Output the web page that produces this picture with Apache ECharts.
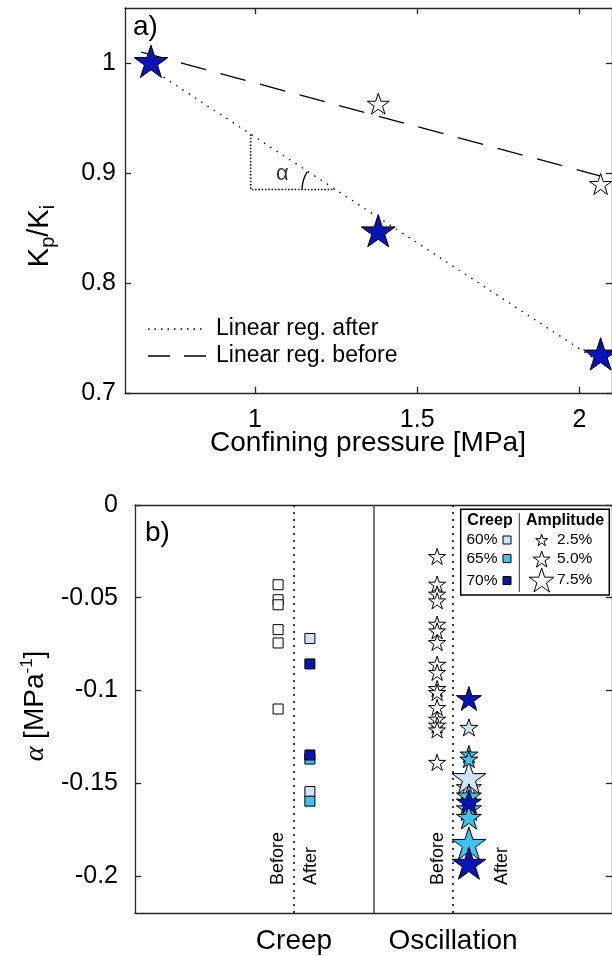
<!DOCTYPE html>
<html><head><meta charset="utf-8">
<script src="https://cdn.jsdelivr.net/npm/echarts@6/dist/echarts.min.js"></script>
<style>html,body{margin:0;padding:0;background:#fff}#c{width:612px;height:956px}</style>
</head><body><div id="c"></div>
<script>
// ---------- Panel a data ----------
const pressure = [0.68, 1.38, 2.065];
const kBefore = [1.0, 0.962, 0.889];
const kAfter = [1.0, 0.846, 0.734];
const regAfterP = [0.68, 2.1];
const regAfterK = [0.9945, 0.7209];
const regBeforeP = [0.65, 2.1];
const regBeforeK = [1.0098, 0.8944];
const triangleP = [0.987, 0.987, 1.247];
const triangleK = [0.935, 0.885, 0.885];
const alphaPos = [1.085, 0.899];
const aXTicks = [1, 1.5, 2];
const aYTicks = [0.7, 0.8, 0.9, 1];
const aLegendLabels = ['Linear reg. after', 'Linear reg. before'];

// ---------- Panel b data ----------
const categories = ['Creep', 'Oscillation'];
const bYTicks = [-0.2, -0.15, -0.1, -0.05, 0];
const creepBefore = [-0.043, -0.0511, -0.0538, -0.0672, -0.0744, -0.110];
const creepAfter60 = [-0.072, -0.1545];
const creepAfter65 = [-0.137, -0.1597];
const creepAfter70 = [-0.0857, -0.1348];
const oscBefore = [-0.0282, -0.0431, -0.0485, -0.0521, -0.0647, -0.0683, -0.0746, -0.0863,
                   -0.0907, -0.0994, -0.1015, -0.1096, -0.1159, -0.1191, -0.1217, -0.1392];
const oscAfter60 = [-0.1204, -0.153, -0.1478];
const oscAfter60Amp = [2.5, 5.0, 7.5];
const oscAfter65 = [-0.1348, -0.1375, -0.1575, -0.1644, -0.169, -0.1833];
const oscAfter65Amp = [2.5, 2.5, 5.0, 5.0, 5.0, 7.5];
const oscAfter70 = [-0.105, -0.1608, -0.194];
const oscAfter70Amp = [5.0, 5.0, 7.5];
const legendCreep = ['60%', '65%', '70%'];
const legendAmp = ['2.5%', '5.0%', '7.5%'];
const sideLabels = ['Before', 'After'];

// ---------- styles ----------
const FONT = 'Liberation Sans, Arial, Helvetica, sans-serif';
const AX = '#262626';
const C60 = '#cfe4f8', C65 = '#3fc3f0', C70 = '#0a14b4';
const TICKFONT = 25;

function starPath() {
  let d = '';
  for (let i = 0; i < 10; i++) {
    const r = i % 2 === 0 ? 1 : 0.382;
    const a = -Math.PI / 2 + i * Math.PI / 5;
    d += (i === 0 ? 'M' : 'L') + (r * Math.cos(a)).toFixed(4) + ' ' + (r * Math.sin(a)).toFixed(4) + ' ';
  }
  return 'path://' + d + 'Z';
}
function starPoints(cx, cy, w) {
  const R = w / 1.902, pts = [];
  for (let i = 0; i < 10; i++) {
    const r = i % 2 === 0 ? R : R * 0.382;
    const a = -Math.PI / 2 + i * Math.PI / 5;
    pts.push([cx + r * Math.cos(a), cy + r * Math.sin(a)]);
  }
  return pts;
}
const STAR = starPath();
const ampSize = a => a < 3 ? 18 : (a < 6 ? 25 : 34);

const axLine = {show: true, onZero: false, lineStyle: {color: AX, width: 1.3}};
function tick(vals) { return {show: true, inside: true, length: 6, customValues: vals, lineStyle: {color: AX, width: 1.3}}; }
const fmt = v => String(+(+v).toFixed(3));

const zip = (xs, ys) => xs.map((x, i) => [x, ys[i]]);
const atX = (x, ys) => ys.map(y => [x, y]);

function starSeries(x, ys, amps, color, size, z) {
  return {
    type: 'scatter', xAxisIndex: 2, yAxisIndex: 2, z: z,
    symbol: STAR, symbolKeepAspect: true, symbolOffset: [0, '-5%'],
    data: ys.map((y, i) => ({value: [x, y], symbolSize: amps ? ampSize(amps[i]) : size})),
    itemStyle: {color: color, borderColor: '#000', borderWidth: 1, opacity: 1}
  };
}
function squareSeries(x, ys, color, z) {
  return {
    type: 'scatter', xAxisIndex: 2, yAxisIndex: 2, z: z, symbol: 'rect', symbolSize: 10,
    data: atX(x, ys), itemStyle: {color: color, borderColor: '#000', borderWidth: 1, opacity: 1}
  };
}

const option = {
  animation: false,
  backgroundColor: '#fff',
  grid: [
    {left: 125, top: 8, width: 489, height: 385},
    {left: 135, top: 505, width: 478, height: 408}
  ],
  xAxis: [
    {gridIndex: 0, type: 'value', min: 0.6, max: 2.1, position: 'bottom', axisLine: axLine, axisTick: tick(aXTicks),
     axisLabel: {customValues: aXTicks, formatter: fmt, fontSize: TICKFONT, fontFamily: FONT, color: '#000', margin: 15}, splitLine: {show: false}},
    {gridIndex: 0, type: 'value', min: 0.6, max: 2.1, position: 'top', axisLine: axLine, axisTick: tick(aXTicks),
     axisLabel: {show: false}, splitLine: {show: false}},
    {gridIndex: 1, type: 'value', min: 0, max: 3, position: 'bottom', axisLine: axLine, axisTick: {show: false},
     axisLabel: {customValues: [1, 2], formatter: v => categories[Math.round(v) - 1], fontSize: 28, fontFamily: FONT, color: '#000', margin: 14},
     splitLine: {show: false}},
    {gridIndex: 1, type: 'value', min: 0, max: 3, position: 'top', axisLine: axLine, axisTick: {show: false},
     axisLabel: {show: false}, splitLine: {show: false}}
  ],
  yAxis: [
    {gridIndex: 0, type: 'value', min: 0.7, max: 1.05, position: 'left', axisLine: axLine, axisTick: tick(aYTicks),
     axisLabel: {customValues: aYTicks, formatter: fmt, fontSize: TICKFONT, fontFamily: FONT, color: '#000', margin: 9}, splitLine: {show: false}},
    {gridIndex: 0, type: 'value', min: 0.7, max: 1.05, position: 'right', axisLine: axLine, axisTick: tick(aYTicks),
     axisLabel: {show: false}, splitLine: {show: false}},
    {gridIndex: 1, type: 'value', min: -0.22, max: 0, position: 'left', axisLine: axLine, axisTick: tick(bYTicks),
     axisLabel: {customValues: bYTicks, formatter: fmt, fontSize: TICKFONT, fontFamily: FONT, color: '#000', margin: 17}, splitLine: {show: false}},
    {gridIndex: 1, type: 'value', min: -0.22, max: 0, position: 'right', axisLine: axLine, axisTick: tick(bYTicks),
     axisLabel: {show: false}, splitLine: {show: false}}
  ],
  series: [
    // ----- panel a -----
    {type: 'line', xAxisIndex: 0, yAxisIndex: 0, z: 2, showSymbol: false, symbol: 'none',
     data: zip(regAfterP, regAfterK), lineStyle: {color: '#000', width: 1.3, type: [1.5, 6]}},
    {type: 'line', xAxisIndex: 0, yAxisIndex: 0, z: 2, showSymbol: false, symbol: 'none',
     data: zip(regBeforeP, regBeforeK), lineStyle: {color: '#000', width: 1.3, type: [26, 15]}},
    {type: 'line', xAxisIndex: 0, yAxisIndex: 0, z: 2, showSymbol: false, symbol: 'none',
     data: zip(triangleP, triangleK), lineStyle: {color: '#000', width: 1.6, type: [1.5, 1.8]}},
    {type: 'scatter', xAxisIndex: 0, yAxisIndex: 0, z: 2, symbolSize: 1, data: [alphaPos],
     itemStyle: {color: 'rgba(0,0,0,0)'},
     label: {show: true, position: 'inside', formatter: 'α', fontSize: 22, fontFamily: FONT, color: '#000'}},
    {type: 'custom', xAxisIndex: 0, yAxisIndex: 0, z: 2, data: [[triangleP[2], triangleK[2]]],
     renderItem: function (params, api) {
       const c = api.coord([api.value(0), api.value(1)]);
       return {type: 'arc', shape: {cx: c[0], cy: c[1], r: 33, startAngle: Math.PI, endAngle: Math.PI * 213 / 180, clockwise: true},
               style: {stroke: '#000', fill: null, lineWidth: 1.3}};
     }},
    {type: 'scatter', xAxisIndex: 0, yAxisIndex: 0, z: 3, symbol: STAR, symbolKeepAspect: true, symbolOffset: [0, '-5%'],
     symbolSize: 22, data: zip(pressure, kBefore), itemStyle: {color: '#fff', borderColor: '#000', borderWidth: 1, opacity: 1}},
    {type: 'scatter', xAxisIndex: 0, yAxisIndex: 0, z: 4, symbol: STAR, symbolKeepAspect: true, symbolOffset: [0, '-5%'],
     symbolSize: 34, data: zip(pressure, kAfter), itemStyle: {color: C70, borderColor: '#000', borderWidth: 1, opacity: 1}},
    // ----- panel b -----
    Object.assign(squareSeries(0.9, creepBefore, '#fff', 3), {
      markLine: {silent: true, symbol: ['none', 'none'], label: {show: false}, animation: false,
        data: [
          {xAxis: 1, lineStyle: {color: '#000', width: 1.5, type: [2, 5]}},
          {xAxis: 2, lineStyle: {color: '#000', width: 1.5, type: [2, 5]}},
          {xAxis: 1.5, lineStyle: {color: '#555', width: 1.6, type: 'solid'}}
        ]}
    }),
    squareSeries(1.1, creepAfter60, C60, 3),
    squareSeries(1.1, creepAfter65, C65, 4),
    squareSeries(1.1, creepAfter70, C70, 5),
    starSeries(1.9, oscBefore, null, '#fff', 17, 3),
    starSeries(2.1, oscAfter60, oscAfter60Amp, C60, 0, 3),
    starSeries(2.1, oscAfter65, oscAfter65Amp, C65, 0, 4),
    starSeries(2.1, oscAfter70, oscAfter70Amp, C70, 0, 5)
  ],
  graphic: []
};

const G = [];
const txt = (x, y, t, size, extra) => G.push(Object.assign({type: 'text', x: x, y: y, z: 100,
  style: Object.assign({text: t, fill: '#000', fontSize: size, fontFamily: FONT, align: 'left', verticalAlign: 'middle'}, extra && extra.style || {})},
  extra && extra.el || {}));
// panel labels
txt(133, 27, 'a)', 28);
txt(145, 533, 'b)', 28);
// axis titles
txt(368, 443, 'Confining pressure [MPa]', 28, {style: {align: 'center'}});
G.push({type: 'text', x: 42, y: 236, rotation: Math.PI / 2, z: 100, style: {
  text: '{n|K}{sub|p}{n|/K}{sub|i}', align: 'center', verticalAlign: 'middle',
  rich: {n: {fontSize: 29, lineHeight: 29, verticalAlign: 'top', fontFamily: FONT, fill: '#000'},
         sub: {fontSize: 20, lineHeight: 33, verticalAlign: 'bottom', fontFamily: FONT, fill: '#000'}}}});
G.push({type: 'text', x: 34, y: 706, rotation: Math.PI / 2, z: 100, style: {
  text: '{a|α}{m| [MPa}{s|-1}{m|]}', align: 'center', verticalAlign: 'middle',
  rich: {a: {fontSize: 28, lineHeight: 28, verticalAlign: 'bottom', fontFamily: 'Liberation Serif, serif', fontStyle: 'italic', fill: '#000'},
         m: {fontSize: 28, lineHeight: 28, verticalAlign: 'bottom', fontFamily: FONT, fill: '#000'},
         s: {fontSize: 17, lineHeight: 31, verticalAlign: 'top', fontFamily: FONT, fill: '#000'}}}});
// panel a legend
G.push({type: 'line', z: 100, shape: {x1: 148, y1: 329, x2: 205, y2: 329}, style: {stroke: '#000', lineWidth: 1.3, lineDash: [1.5, 5]}});
G.push({type: 'line', z: 100, shape: {x1: 148, y1: 356, x2: 207, y2: 356}, style: {stroke: '#000', lineWidth: 1.3, lineDash: [22, 14]}});
txt(216, 329, aLegendLabels[0], 23);
txt(216, 356, aLegendLabels[1], 23);
// before / after labels (rotated)
[[278, 0], [311.5, 1], [438, 0], [502, 1]].forEach(([x, k]) =>
  G.push({type: 'text', x: x, y: 885, rotation: Math.PI / 2, z: 100,
          style: {text: sideLabels[k], fill: '#000', fontSize: 18, fontFamily: FONT, align: 'left', verticalAlign: 'middle'}}));
// panel b legend box
G.push({type: 'rect', z: 100, shape: {x: 460.7, y: 509.3, width: 148.6, height: 85.7}, style: {fill: '#fff', stroke: '#000', lineWidth: 1.5}});
G.push({type: 'line', z: 101, shape: {x1: 519.3, y1: 513, x2: 519.3, y2: 592}, style: {stroke: '#333', lineWidth: 1}});
txt(490, 521, 'Creep', 16, {style: {align: 'center', fontWeight: 'bold'}, el: {z: 101}});
txt(565, 521, 'Amplitude', 16, {style: {align: 'center', fontWeight: 'bold'}, el: {z: 101}});
const rowY = [540, 558.5, 580.5];
const cols = [C60, C65, C70];
const starW = [12, 17, 25];
legendCreep.forEach((t, i) => {
  txt(466.5, rowY[i], t, 15.5, {el: {z: 101}});
  G.push({type: 'rect', z: 101, shape: {x: 503, y: rowY[i] - 4, width: 8, height: 8}, style: {fill: cols[i], stroke: '#000', lineWidth: 1}});
});
const starY = [540, 559, 580];
legendAmp.forEach((t, i) => {
  G.push({type: 'polygon', z: 101, shape: {points: starPoints(541.7, starY[i] + starW[i] * 0.05, starW[i])}, style: {fill: '#fff', stroke: '#000', lineWidth: 1}});
  txt(557, starY[i], t, 15.5, {el: {z: 101}});
});
option.graphic = G;

const chart = echarts.init(document.getElementById('c'), null, {renderer: 'canvas'});
chart.setOption(option);
</script>
</body></html>
